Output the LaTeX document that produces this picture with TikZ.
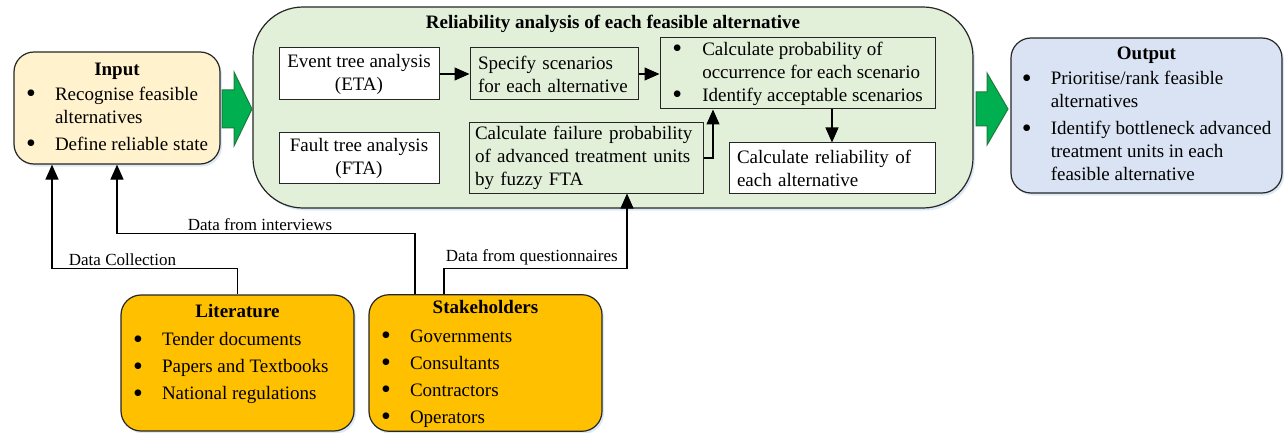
\documentclass[tikz,border=0pt]{standalone}
\usepackage{fontspec}
\setmainfont{Liberation Serif}
\usetikzlibrary{arrows.meta,shadows}
\definecolor{inputfill}{HTML}{FFF2CC}
\definecolor{relfill}{HTML}{E2F0D9}
\definecolor{outfill}{HTML}{DAE3F3}
\definecolor{srcfill}{HTML}{FFC000}
\definecolor{arrowgreen}{HTML}{00B050}
\definecolor{arrowedge}{HTML}{1E7B3C}
\definecolor{glow}{HTML}{9DC3E6}
\newcommand{\bul}{\raisebox{-2.5pt}{\fontsize{28}{23}\selectfont\textbullet}}
\newcommand{\blist}[3]{%
  \begin{tabular}{@{}p{29pt}@{}l@{}}
    \multicolumn{2}{@{}c@{}}{\makebox[#1pt]{\textbf{#2}}}\\[2pt]
    #3
  \end{tabular}}
\tikzset{
  panel/.style={draw=black!85, line width=1.2pt, rounded corners=20pt, inner sep=0pt,
    drop shadow={shadow xshift=2pt, shadow yshift=-2.5pt, fill=glow, opacity=0.35}},
  stepbox/.style={draw=black!85, line width=1pt, inner sep=0pt, align=center},
  leftbox/.style={stepbox, align=left, inner xsep=8pt},
  flow/.style={line width=1.2pt, -{Triangle[length=15pt,width=13pt]}},
  link/.style={font=\fontsize{17}{20}\selectfont, inner sep=2pt},
  bigarrow/.style={fill=arrowgreen, draw=arrowedge, line width=1pt, line join=miter}
}
\begin{document}
\begin{tikzpicture}[x=1pt, y=-1pt, every node/.style={font=\fontsize{19}{23}\selectfont}]
  \useasboundingbox (0,0) rectangle (1285,433);

  \node[panel, fill=inputfill, minimum width=206pt, minimum height=112pt] (input) at (117,108)
    {\blist{180}{Input}{\bul & Recognise feasible\\ & alternatives\\[4pt] \bul & Define reliable state}};

  \node[panel, rounded corners=50pt, fill=relfill, minimum width=720pt, minimum height=201pt] (rel) at (613,107.5) {};
  \node (relTitle) at (613,24) {\textbf{Reliability analysis of each feasible alternative}};
  \node[stepbox, fill=white, minimum width=160pt, minimum height=52pt] (eta) at (359,74) {Event tree analysis\\(ETA)};
  \node[leftbox, fill=relfill, text width=152pt, minimum height=52pt] (spec) at (554,74) {Specify scenarios\\for each alternative};
  \node[stepbox, fill=relfill, minimum width=275pt, minimum height=71pt] (calc) at (797.5,73.5)
    {\begin{tabular}{@{}p{30pt}@{}l@{}}\bul & Calculate probability of\\ & occurrence for each scenario\\ \bul & Identify acceptable scenarios\end{tabular}};
  \node[stepbox, fill=white, minimum width=160pt, minimum height=50pt] (fta) at (359,158) {Fault tree analysis\\(FTA)};
  \node[leftbox, fill=relfill, text width=222pt, inner xsep=6pt, minimum height=70pt] (fail) at (586,158) {Calculate failure probability\\of advanced treatment units\\by fuzzy FTA};
  \node[leftbox, fill=white, text width=190pt, minimum height=50pt] (relia) at (832,168) {Calculate reliability of\\each alternative};

  \node[panel, fill=outfill, minimum width=271pt, minimum height=155pt] (output) at (1146.5,115.5)
    {\blist{243}{Output}{\bul & Prioritise/rank feasible\\ & alternatives\\[4pt] \bul & Identify bottleneck advanced\\ & treatment units in each\\ & feasible alternative}};

  \node[panel, fill=srcfill, minimum width=233pt, minimum height=136pt] (lit) at (237.5,363)
    {\renewcommand{\arraystretch}{1.17}\blist{209}{Literature}{\bul & Tender documents\\ \bul & Papers and Textbooks\\ \bul & National regulations\\[20pt]}};
  \node[panel, fill=srcfill, minimum width=233pt, minimum height=136pt] (stake) at (485.5,363)
    {\renewcommand{\arraystretch}{1.17}\blist{209}{Stakeholders}{\bul & Governments\\ \bul & Consultants\\ \bul & Contractors\\ \bul & Operators}};

  \draw[bigarrow] (222,90) -- (234,90) -- (234,72) -- (252,109) -- (234,146) -- (234,128) -- (222,128) -- cycle;
  \draw[bigarrow] (976,92) -- (987,92) -- (987,73) -- (1008,109) -- (987,145) -- (987,126) -- (976,126) -- cycle;

  \draw[flow] (eta) -- (spec);
  \draw[flow] (spec.east) -- (spec.east -| calc.west);
  \draw[flow] (fail.east) -| ([xshift=-84.5pt]calc.south);
  \draw[flow] (calc.south -| relia.north) -- (relia.north);

  \draw[flow] (lit.north) -- ++(0,-26) -| node[link, pos=0.31, above] {Data Collection} ([xshift=-65pt]input.south);
  \draw[flow] ([xshift=-70.5pt]stake.north) -- ++(0,-61) -| node[link, pos=0.26, above] {Data from interviews} (input.south);
  \draw[flow] ([xshift=-41.5pt]stake.north) -- ++(0,-26) -| node[link, pos=0.24, above] {Data from questionnaires} ([xshift=41pt]fail.south);
\end{tikzpicture}
\end{document}
